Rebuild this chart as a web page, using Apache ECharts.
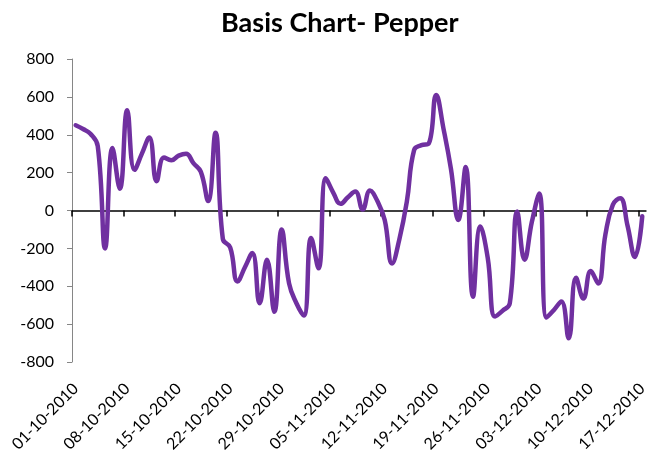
<!DOCTYPE html>
<html>
<head>
<meta charset="utf-8">
<script src="https://cdn.jsdelivr.net/npm/echarts@6/dist/echarts.min.js"></script>
<style>
  html, body { margin: 0; padding: 0; background: #fff; }
  #chart { width: 650px; height: 468px; }
</style>
</head>
<body>
<div id="chart"></div>
<script>
// daily dates 01-10-2010 .. 17-12-2010
var startDate = [2010, 9, 1];
var dayCount = 78;
var basis = [
  450, 430, 405, 340, -200, 330, 115, 530, 215, 300,
  385, 155, 280, 265, 290, 300, 250, 205, 50, 410,
  -150, -195, -375, -300, -225, -490, -260, -535, -100, -385,
  -490, -555, -145, -305, 170, 95, 35, 70, 100, 5,
  105, 50, -50, -280, -150, 45, 320, 345, 355, 610,
  430, 220, -50, 230, -455, -85, -250, -560, -530, -490,
  -5, -260, -60, 90, -565, -525, -480, -675, -355, -465,
  -320, -385, -125, 30, 65, -80, -245, -30
];
var yTicks = [-800, -600, -400, -200, 0, 200, 400, 600, 800];

function pad(n) { return (n < 10 ? '0' : '') + n; }
var dates = [];
for (var i = 0; i < dayCount; i++) {
  var d = new Date(startDate[0], startDate[1], startDate[2] + i);
  dates.push(pad(d.getDate()) + '-' + pad(d.getMonth() + 1) + '-' + d.getFullYear());
}
// day boundaries for the tick marks on the zero line (one more than days)
var bounds = dates.concat(['']);

var chart = echarts.init(document.getElementById('chart'));
chart.setOption({
  animation: false,
  title: {
    text: 'Basis Chart- Pepper',
    left: 216,
    top: 5,
    textStyle: {
      fontFamily: 'Lato',
      fontWeight: 'bold',
      fontSize: 27,
      color: '#000'
    }
  },
  grid: {
    left: 72,
    right: 0,
    top: 59,
    bottom: 106
  },
  xAxis: [
    {
      // axis line through zero with weekly ticks
      type: 'category',
      position: 'bottom',
      data: bounds,
      boundaryGap: false,
      axisLine: {
        onZero: true,
        lineStyle: { color: '#000', width: 1.5 }
      },
      axisTick: {
        show: true,
        interval: 6,
        length: 6,
        lineStyle: { color: '#000', width: 1.5 }
      },
      axisLabel: { show: false },
      splitLine: { show: false }
    },
    {
      // date labels at the bottom
      type: 'category',
      position: 'bottom',
      data: dates,
      boundaryGap: true,
      axisLine: { show: false, onZero: false },
      axisTick: { show: false },
      axisLabel: {
        interval: 6,
        rotate: 45,
        margin: 24,
        fontFamily: 'Lato',
        fontSize: 16,
        color: '#000'
      },
      splitLine: { show: false }
    }
  ],
  yAxis: {
    type: 'value',
    min: yTicks[0],
    max: yTicks[yTicks.length - 1],
    interval: 200,
    axisLine: {
      show: true,
      lineStyle: { color: '#868686', width: 1 }
    },
    axisTick: {
      show: true,
      length: 5,
      lineStyle: { color: '#868686' }
    },
    axisLabel: {
      margin: 18,
      fontFamily: 'Lato',
      fontSize: 16,
      color: '#000'
    },
    splitLine: { show: false }
  },
  series: [
    {
      name: 'Basis',
      type: 'line',
      xAxisIndex: 1,
      data: basis,
      smooth: 0.45,
      symbol: 'none',
      lineStyle: { color: '#7030A0', width: 4.5, cap: 'round', join: 'round' }
    }
  ]
});
</script>
</body>
</html>
